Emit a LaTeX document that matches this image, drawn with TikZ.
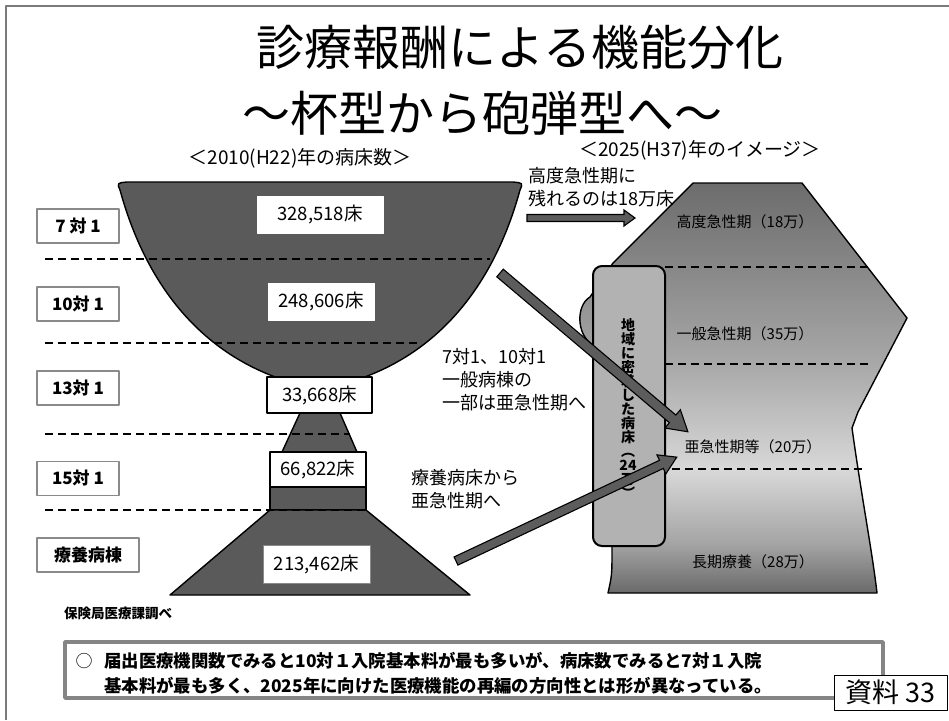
\documentclass[tikz,border=0pt]{standalone}
\usepackage{fontspec}
\setmainfont{Noto Sans CJK JP}
\usetikzlibrary{calc}
\definecolor{framegray}{HTML}{7A7A7A}
\definecolor{cupgray}{HTML}{5A5A5A}
\definecolor{boxgray}{HTML}{8A8A8A}
\definecolor{notegray}{HTML}{858585}
\definecolor{vboxgray}{HTML}{B2B2B2}
\definecolor{arrowgray}{HTML}{5C5C5C}
\definecolor{bA}{HTML}{6A6A6A}
\definecolor{bB}{HTML}{A4A4A4}
\definecolor{bC}{HTML}{D8D8D8}
\definecolor{bD}{HTML}{A8A8A8}
\definecolor{bE}{HTML}{848484}
\definecolor{bF}{HTML}{6C6C6C}
\pgfdeclareverticalshading{bulletshade}{100bp}{color(0bp)=(bA); color(25bp)=(bA); color(31bp)=(bB); color(40bp)=(bC); color(53bp)=(bD); color(66bp)=(bE); color(75bp)=(bF); color(100bp)=(bF)}
\newcommand{\blockarrow}[6]{%
  \begin{scope}[shift={(#1)},rotate=#2]
    \draw[arrowstyle] (0,-#4/2) -- ({#3-#6},-#4/2) -- ({#3-#6},-#5/2) -- (#3,0) -- ({#3-#6},#5/2) -- ({#3-#6},#4/2) -- (0,#4/2) -- cycle;
  \end{scope}}
\tikzset{
  cupstyle/.style={fill=cupgray, draw=black, line width=1.4},
  dashln/.style={draw=black, line width=2.8, dash pattern=on 8pt off 5pt},
  grade/.style={draw=boxgray, line width=1.6, fill=white, minimum height=34, inner sep=0, font=\bfseries\fontsize{17}{19}\selectfont},
  numbox/.style={fill=white, inner sep=0, font=\fontsize{18.5}{20}\selectfont},
  annot/.style={align=left, anchor=west, inner sep=0, font=\fontsize{18}{23}\selectfont},
  phase/.style={inner sep=0, font=\fontsize{15}{17}\selectfont},
  arrowstyle/.style={fill=arrowgray, draw=black, line width=1.1, line join=miter},
}
\begin{document}
\begin{tikzpicture}[x=1pt,y=-1pt,line join=round]
\useasboundingbox (0,0) rectangle (949,720);
\fill[white] (0,0) rectangle (949,720);
% frame
\draw[framegray, line width=2.5] (6,720) -- (6,6) -- (949,6);
% titles
\node[inner sep=0, font=\fontsize{48}{50}\selectfont] (t1) at (520,47) {診療報酬による機能分化};
\node[inner sep=0, font=\fontsize{48}{50}\selectfont] (t2) at (482,113) {～杯型から砲弾型へ～};
\node[inner sep=0, font=\fontsize{19}{20}\selectfont] (s1) at (300,158) {＜2010(H22)年の病床数＞};
\node[inner sep=0, font=\fontsize{19}{20}\selectfont] (s2) at (700,150) {＜2025(H37)年のイメージ＞};

% cup (2010)
\draw[cupstyle] (278,378) .. controls (200,350) and (146,285) .. (120,190) .. controls (117,183) .. (127,182) -- (513,182) .. controls (523,183) .. (520,190) .. controls (494,285) and (440,350) .. (362,378) -- cycle;
\draw[cupstyle] (300,413) -- (340,413) -- (357,452) -- (282,452) -- cycle;
\draw[cupstyle] (270,487) rectangle (366,510);
\draw[cupstyle] (270,510) -- (366,510) -- (470,595) -- (170,595) -- cycle;

% dashed lines (left)
\draw[dashln] (45,259) -- (490,259);
\draw[dashln] (45,343) -- (417,343);
\draw[dashln] (45,434) -- (350,434);
\draw[dashln] (45,510) -- (366,510);

% bed count boxes
\node[numbox, draw=white, minimum width=126, minimum height=37] (b1) at (320,214.5) {328,518床};
\node[numbox, draw=white, minimum width=106, minimum height=37] (b2) at (321,301.5) {248,606床};
\node[numbox, draw=black, line width=1.6, minimum width=105, minimum height=36] (b3) at (319.5,395) {33,668床};
\node[numbox, draw=black, line width=1.6, minimum width=96, minimum height=35] (b4) at (318,469.5) {66,822床};
\node[numbox, draw=boxgray, line width=0.8, minimum width=107, minimum height=38] (b5) at (316.5,564) {213,462床};

% grade labels
\node[grade, minimum width=82] (g1) at (78,226) {7 対 1};
\node[grade, minimum width=82] (g2) at (78,304) {10対 1};
\node[grade, minimum width=82] (g3) at (78,388) {13対 1};
\node[grade, minimum width=82] (g4) at (78,478.5) {15対 1};
\node[grade, minimum width=102] (g5) at (88,555) {療養病棟};
\node[inner sep=0, anchor=west, font=\bfseries\fontsize{13.5}{15}\selectfont] (src) at (64,613) {保険局医療課調べ};

% bullet shape (2025)
\path[shading=bulletshade] (693,183) -- (802,183) -- (907,318) -- (858,412) -- (852,428) .. controls (862,500) and (872,550) .. (877,593) -- (608,593) .. controls (612,575) .. (612,547) -- (613,350) -- (593,345) .. controls (576,335) and (576,305) .. (590,297) -- (613,263) -- cycle;
\draw[black, line width=1.4] (612,547) .. controls (612,575) .. (608,593) -- (877,593) .. controls (872,550) and (862,500) .. (852,428) -- (858,412) -- (907,318) -- (802,183) -- (693,183) -- (613,263) -- (590,297) .. controls (576,305) and (576,335) .. (593,345);
\draw[dashln] (665,267) -- (872,267);
\draw[dashln] (665,364) -- (872,364);
\draw[dashln] (672,469) -- (862,469);
\node[phase] (p1) at (745,222) {高度急性期（18万）};
\node[phase] (p2) at (745,334) {一般急性期（35万）};
\node[phase] (p3) at (753,447) {亜急性期等（20万）};
\node[phase] (p4) at (753,562) {長期療養（28万）};

% community box
\draw[fill=vboxgray, draw=black, line width=2, rounded corners=9] (593,266) rectangle (665,546);
\node[inner sep=0, align=center, font=\bfseries\fontsize{14}{14}\selectfont] (vt) at (628,409) {地\\域\\に\\密\\着\\し\\た\\病\\床\\︵\\24\\万\\︶};

% annotations
\node[annot] (a1) at (528,187.5) {高度急性期に\\残れるのは18万床};
\node[annot] (a2) at (442,380) {7対1、10対1\\一般病棟の\\一部は亜急性期へ};
\node[annot] (a3) at (411,489) {療養病床から\\亜急性期へ};

% arrows
\coordinate (ar1) at (527,218);
\coordinate (ar2) at (500,273);
\coordinate (ar3) at (456,561);
\blockarrow{ar1}{0}{108}{7}{16}{11}
\blockarrow{ar2}{-40.2}{246}{10}{24}{20}
\blockarrow{ar3}{25.2}{244}{9}{21}{17}

% note box
\node[draw=notegray, line width=3.5, fill=white, minimum width=818, minimum height=56, inner sep=0] (note) at (474,670) {};
\node[inner sep=0, font=\fontsize{17}{19}\selectfont] (n0) at (84,661) {○};
\node[inner sep=0, anchor=west, font=\bfseries\fontsize{17.4}{19}\selectfont] (n1) at (104,661) {届出医療機関数でみると10対１入院基本料が最も多いが、病床数でみると7対１入院};
\node[inner sep=0, anchor=west, font=\bfseries\fontsize{17.4}{19}\selectfont] (n2) at (104,686) {基本料が最も多く、2025年に向けた医療機能の再編の方向性とは形が異なっている。};
\node[draw=black, line width=1, fill=white, minimum width=113, minimum height=35, inner sep=0, font=\fontsize{27}{29}\selectfont] (ref) at (890.5,692.5) {資料 33};
\end{tikzpicture}
\end{document}
